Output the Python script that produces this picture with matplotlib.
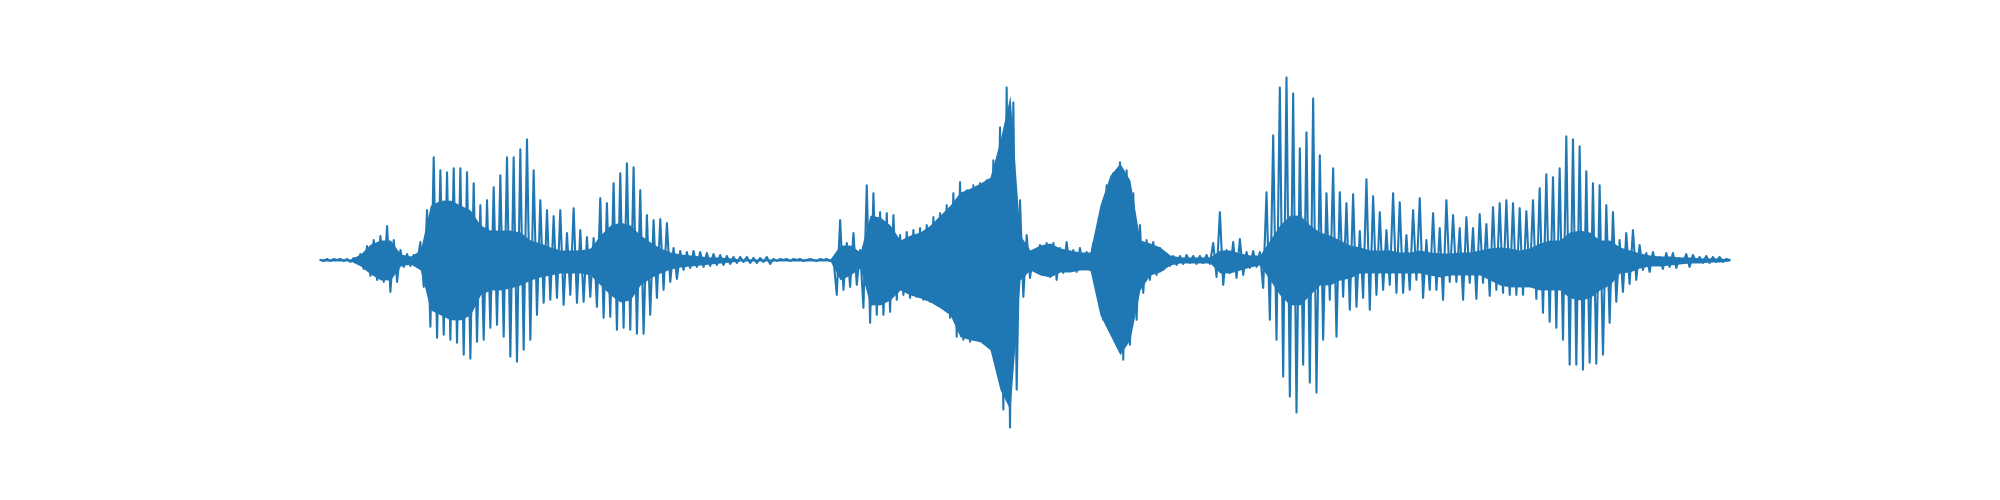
import matplotlib
matplotlib.use('Agg')
import matplotlib.pyplot as plt
import numpy as np

# waveform extremes, alternating up / down
lead_in = [0, -1, 1, -1, 1, 0, 1, -1, 1, -2, 2, -3, 6, -9, 14, -16, 20, -20,
           24, -22, 34, -32, 20, -22, 10, -7, 6, -6, 5, -5]

syllable_1 = [18, -27, 50, -67, 103, -78, 90, -75, 88, -80, 92, -83,
              92, -95, 88, -99, 77, -82, 55, -80, 60, -68, 73, -65,
              85, -77, 103, -97, 103, -102, 111, -90, 121, -80, 90, -55,
              60, -43, 50, -40, 44, -38, 50, -45, 27, -35, 52, -43,
              30, -42, 23, -37, 22, -47, 62, -58, 57, -57, 77, -70,
              87, -68, 97, -70, 93, -74, 70, -74, 45, -55, 40, -38,
              41, -30, 37, -22, 12, -19, 9, -10, 8, -8, 9, -7,
              8, -7, 7, -6, 6, -5, 5, -5, 4, -4, 3, -3]

pause_1 = [3, -2, 3, -3, 2, -3, 2, -2, 3, -4, 1, -1, 1, 0, 1, -1, 1, 0,
           1, -1, 0, 1, 0, -1, 1, 0, 1, -1, 1, -35, 40, -30, 17, -27, 27, -25]

syllable_2 = [10, -48, 75, -63, 67, -55, 48, -55, 47, -52, 45, -40,
              25, -35, 28, -38, 30, -37, 32, -40, 35, -42, 43, -45,
              47, -48, 55, -58, 67, -77, 78, -80, 70, -82, 75, -80,
              77, -83, 80, -87, 100, -100, 133, -150, 173, -168, 158, -130,
              60, -37, 25, -18, 8, -9, 15, -15, 17, -17, 17, -20,
              12, -13, 18, -10, 10, -12, 12, -8, 8, -10, 17, -20,
              43, -60, 75, -70, 87, -85, 98, -100, 90, -85, 67, -60,
              35, -33, 20, -20, 18, -15]

pause_2 = [12, -10, 6, -6, 4, -5, 4, -4, 5, -3, 4, -4, 4, -3, 5, -4, 17, -17,
           48, -25, 10, -13, 18, -18, 21, -15, 8, -8, 9, -7, 8, -28, 68, -60, 125, -80]

syllable_3 = [173, -117, 183, -137, 167, -153, 112, -105, 128, -123, 162, -133,
              105, -80, 67, -40, 92, -77, 68, -37, 57, -50, 66, -47,
              29, -38, 81, -50, 64, -35, 48, -30, 30, -25, 67, -33,
              58, -33, 25, -30, 50, -20, 62, -38, 20, -30, 47, -30,
              32, -40, 60, -22, 45, -22, 32, -40, 43, -23, 32, -39,
              46, -23, 36, -36, 53, -30, 57, -33, 60, -35, 57, -35,
              52, -35, 49, -23, 60, -39, 72, -53, 86, -62, 83, -68,
              92, -80, 124, -105, 121, -105, 114, -110, 89, -103, 77, -104,
              75, -95, 55, -63, 48, -42, 20, -32, 27, -24, 30, -20,
              15, -10, 7, -12, 8, -5, 3, -9, 7, -7, 7, -8,
              2, -3, 6, -7, 5, -2, 3, -3, 4, -3, 3, -2, 3, -2, 1, 0]

# solid inner band of the waveform, one value every 3 samples
core_upper = [1, 1, 1, 1, 6, 16, 20, 20, 6, 4,
              10, 55, 60, 60, 55, 50, 35, 30, 30, 30,
              28, 20, 17, 13, 10, 10, 10, 12, 25, 35,
              38, 35, 25, 18, 12, 8, 6, 5, 4, 3,
              3, 2, 1, 1, 1, 1, 1, 1, 1, 1,
              1, 1, 15, 15, 8, 45, 43, 35, 20, 25,
              28, 35, 45, 55, 68, 72, 77, 83, 120, 165,
              25, 10, 15, 17, 12, 10, 8, 8, 55, 85,
              97, 80, 20, 17, 13, 5, 3, 3, 3, 3,
              10, 10, 7, 5, 5, 20, 35, 45, 45, 35,
              28, 25, 20, 15, 13, 10, 10, 10, 8, 8,
              10, 8, 7, 7, 8, 8, 10, 12, 13, 12,
              10, 12, 17, 20, 20, 28, 30, 28, 20, 20,
              13, 10, 7, 5, 4, 4, 3, 3, 2, 2,
              2, 1]
core_lower = [-1, -1, -1, -1, -6, -14, -20, -20, -6, -4,
              -10, -50, -55, -60, -60, -55, -35, -30, -30, -28,
              -25, -20, -17, -15, -13, -13, -13, -15, -25, -35,
              -42, -40, -25, -18, -13, -9, -7, -6, -5, -4,
              -3, -2, -1, -1, -1, -1, -1, -1, -1, -1,
              -1, -1, -20, -15, -8, -45, -45, -40, -30, -35,
              -38, -42, -48, -55, -77, -80, -82, -90, -130, -150,
              -20, -10, -15, -17, -12, -12, -10, -10, -55, -75,
              -95, -80, -30, -15, -12, -5, -3, -3, -3, -3,
              -13, -13, -10, -7, -5, -20, -35, -45, -45, -35,
              -25, -25, -20, -18, -13, -13, -13, -13, -13, -13,
              -13, -15, -17, -15, -15, -15, -15, -20, -25, -27,
              -27, -27, -30, -30, -30, -38, -40, -38, -30, -25,
              -13, -12, -8, -6, -6, -5, -4, -3, -3, -2,
              -2, -1]

wave = np.concatenate([lead_in, syllable_1, pause_1, syllable_2, pause_2, syllable_3])
knots = np.arange(0, len(wave), 3)

fig = plt.figure(figsize=(20, 5), dpi=100)
plt.plot(wave, color='C0')
plt.fill_between(knots, core_lower, core_upper, color='C0', linewidth=0)
plt.axis('off')
plt.savefig('out.png')
